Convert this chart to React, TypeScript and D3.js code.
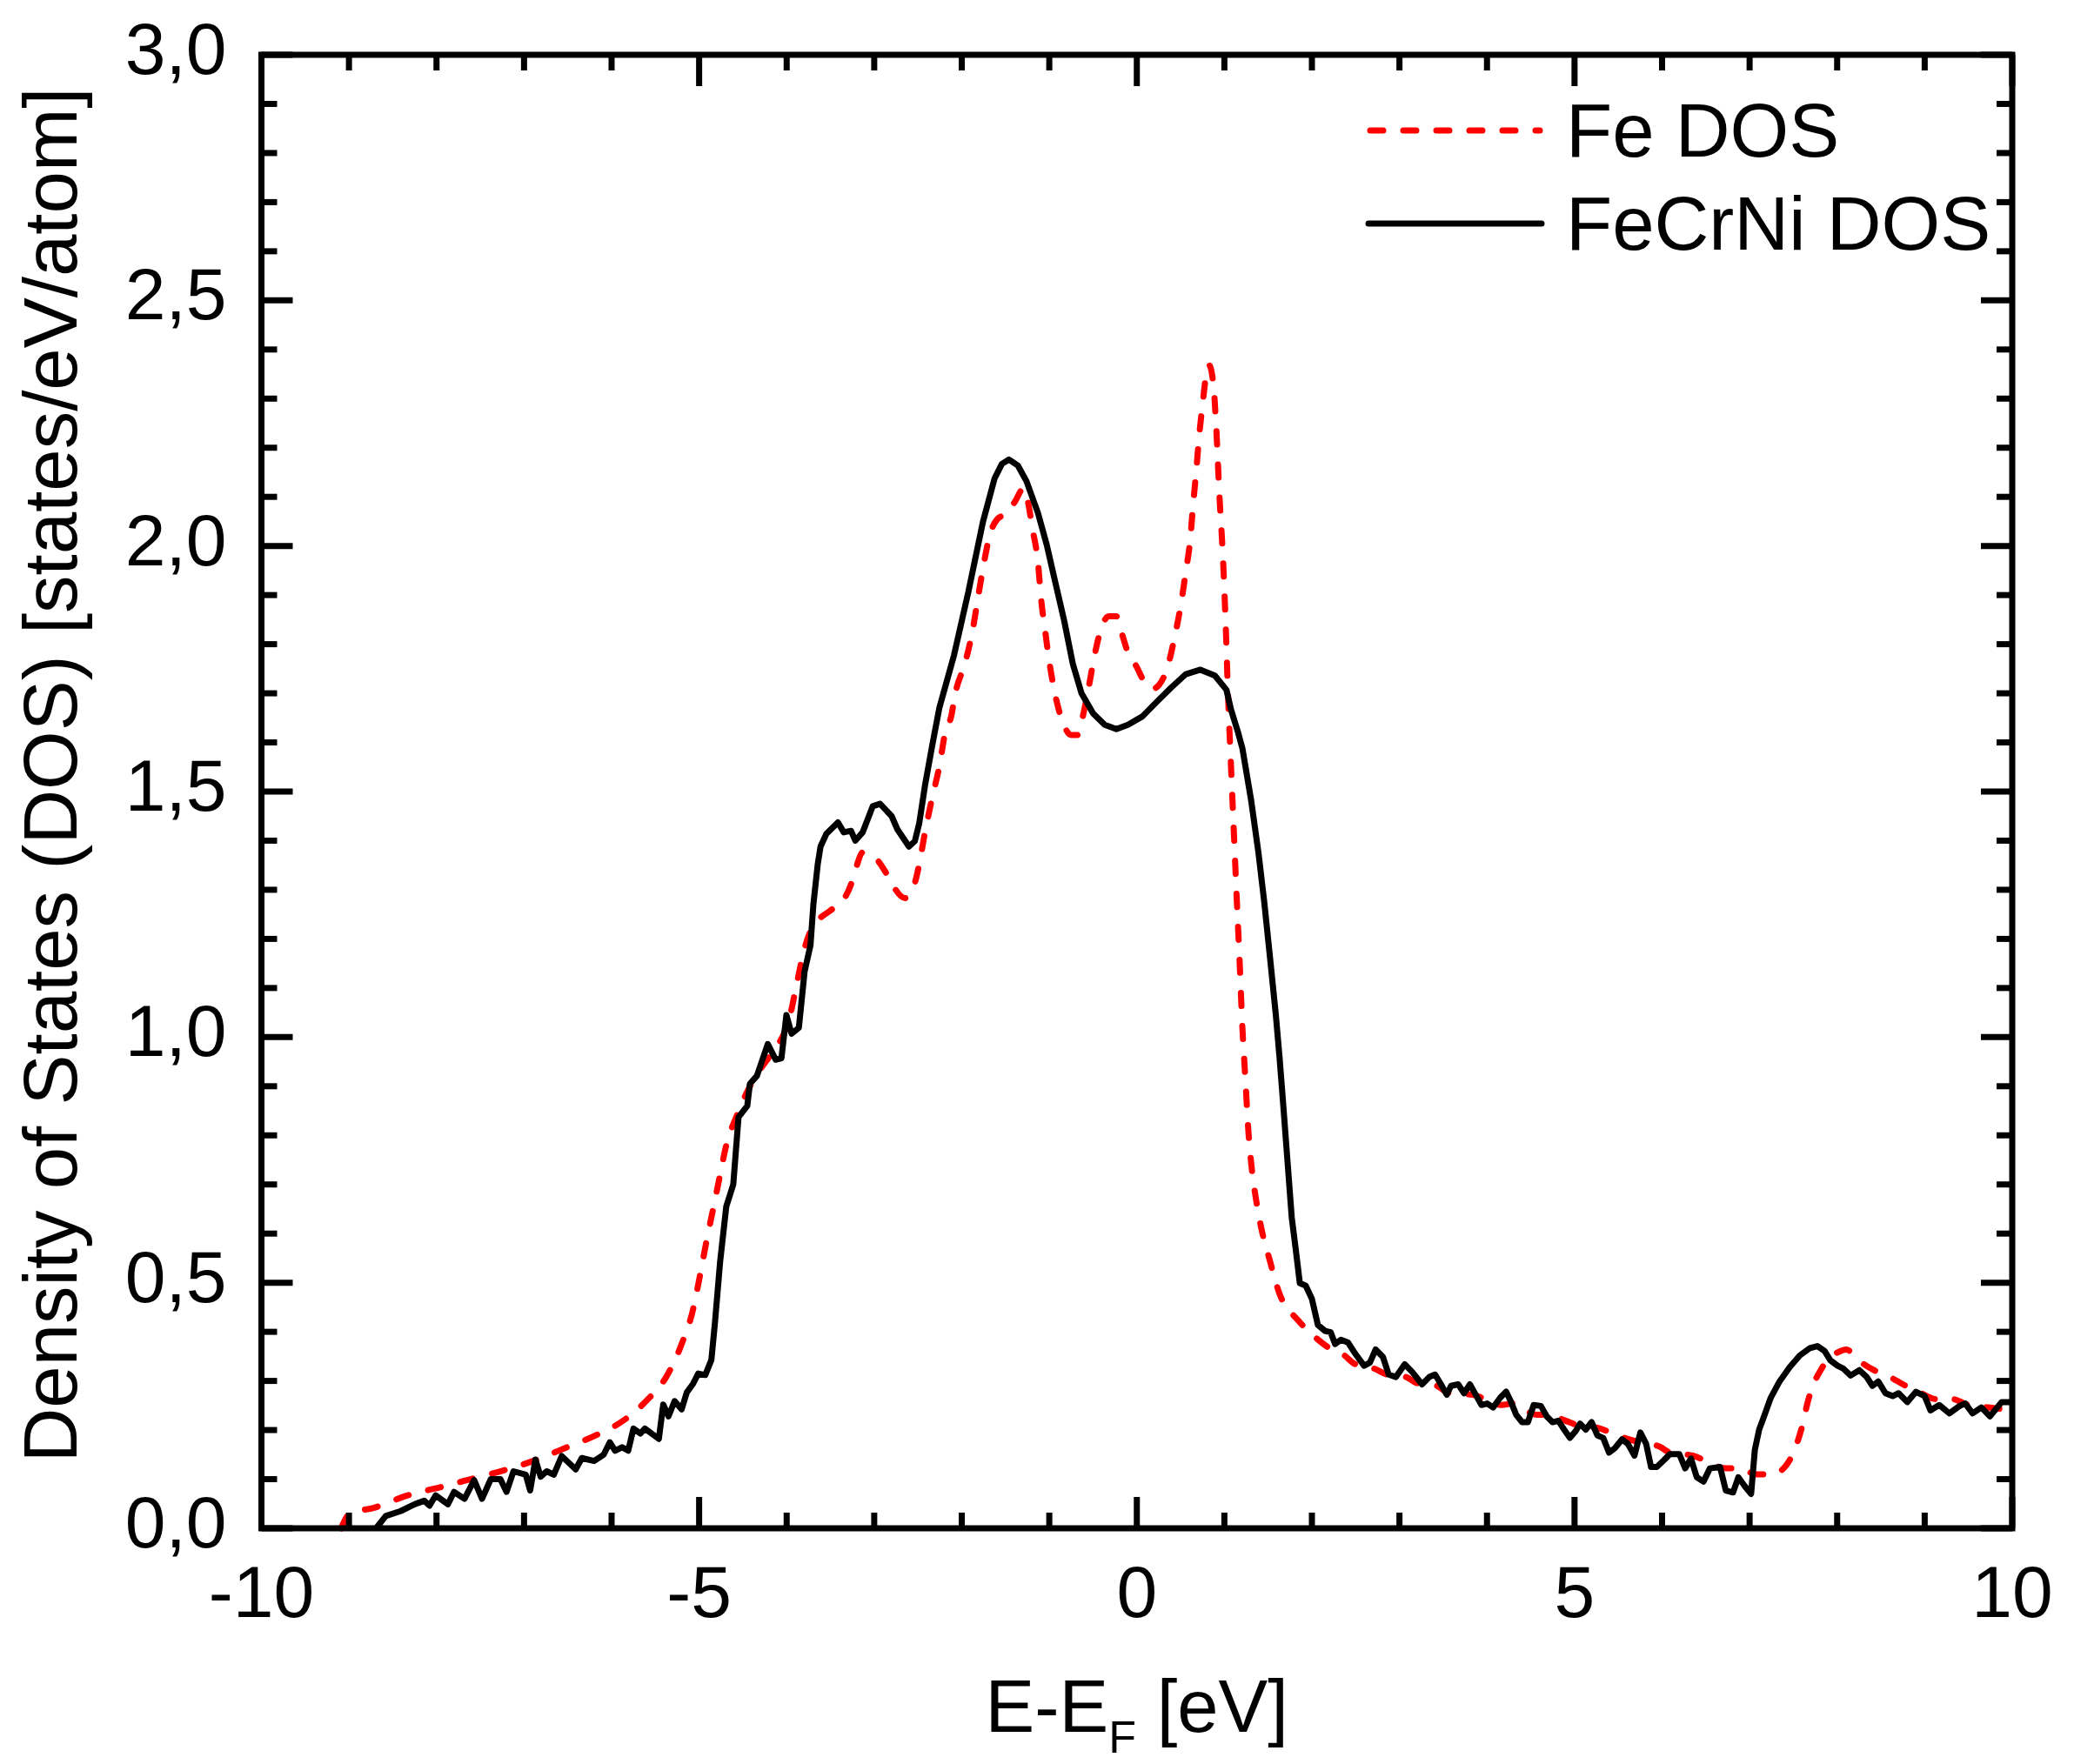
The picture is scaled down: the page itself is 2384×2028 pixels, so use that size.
import * as d3 from "d3";
import React from "react";

// axis ticks and labels
const xMajor = [-10, -5, 0, 5, 10];
const xTickLabels = ["-10", "-5", "0", "5", "10"];
const yMajor = [0, 0.5, 1, 1.5, 2, 2.5, 3];
const yTickLabels = ["0,0", "0,5", "1,0", "1,5", "2,0", "2,5", "3,0"];
const seriesNames = ["Fe DOS", "FeCrNi DOS"];

// [E - E_F (eV), DOS (states/eV/atom)]
const feDos: [number, number][] = [
  [-9.09, 0.0], [-8.99, 0.03], [-8.71, 0.042], [-8.33, 0.067], [-7.95, 0.084],
  [-7.61, 0.1], [-7.19, 0.12], [-6.85, 0.14], [-6.51, 0.165], [-6.17, 0.19],
  [-5.86, 0.22], [-5.6, 0.26], [-5.37, 0.31], [-5.2, 0.375], [-5.07, 0.445],
  [-4.99, 0.515], [-4.91, 0.59], [-4.84, 0.65], [-4.76, 0.72], [-4.69, 0.78],
  [-4.57, 0.84], [-4.42, 0.9], [-4.21, 0.957], [-4.125, 0.977], [-3.96, 1.045],
  [-3.88, 1.113], [-3.795, 1.181], [-3.74, 1.211], [-3.66, 1.234], [-3.5, 1.258],
  [-3.365, 1.276], [-3.265, 1.311], [-3.215, 1.34], [-3.132, 1.376], [-3.0, 1.367],
  [-2.867, 1.335], [-2.784, 1.308], [-2.65, 1.283], [-2.536, 1.314], [-2.486, 1.352],
  [-2.42, 1.417], [-2.337, 1.488], [-2.254, 1.553], [-2.188, 1.621], [-2.122, 1.652],
  [-2.073, 1.7], [-1.957, 1.765], [-1.874, 1.83], [-1.824, 1.884], [-1.758, 1.954],
  [-1.675, 2.025], [-1.592, 2.055], [-1.476, 2.067], [-1.393, 2.09], [-1.294, 2.117],
  [-1.244, 2.09], [-1.194, 2.037], [-1.129, 1.966], [-1.095, 1.895], [-1.045, 1.824],
  [-0.996, 1.76], [-0.93, 1.695], [-0.847, 1.642], [-0.75, 1.615], [-0.68, 1.615],
  [-0.632, 1.642], [-0.55, 1.712], [-0.483, 1.777], [-0.4, 1.836], [-0.317, 1.857],
  [-0.234, 1.857], [-0.185, 1.83], [-0.101, 1.783], [-0.002, 1.754], [0.064, 1.73],
  [0.18, 1.709], [0.33, 1.742], [0.43, 1.813], [0.495, 1.872], [0.56, 1.948],
  [0.61, 2.013], [0.643, 2.084], [0.677, 2.149], [0.71, 2.22], [0.753, 2.291],
  [0.793, 2.35], [0.826, 2.368], [0.876, 2.326], [0.908, 2.238], [0.942, 2.108],
  [0.985, 1.972], [1.017, 1.83], [1.041, 1.7], [1.074, 1.559], [1.107, 1.423],
  [1.14, 1.287], [1.174, 1.155], [1.206, 1.019], [1.24, 0.915], [1.273, 0.812],
  [1.306, 0.744], [1.356, 0.676], [1.422, 0.611], [1.521, 0.544], [1.621, 0.482],
  [1.85, 0.422], [2.05, 0.387], [2.199, 0.367], [2.348, 0.355], [2.497, 0.334],
  [2.712, 0.325], [2.861, 0.313], [3.076, 0.308], [3.192, 0.296], [3.424, 0.29],
  [3.573, 0.275], [3.838, 0.272], [3.937, 0.266], [4.169, 0.251], [4.301, 0.254],
  [4.566, 0.231], [4.699, 0.231], [4.897, 0.219], [5.03, 0.21], [5.278, 0.204],
  [5.411, 0.195], [5.626, 0.181], [5.742, 0.175], [5.974, 0.166], [6.089, 0.154],
  [6.347, 0.148], [6.48, 0.139], [6.728, 0.122], [6.877, 0.122], [7.076, 0.11],
  [7.259, 0.11], [7.425, 0.13], [7.507, 0.157], [7.59, 0.201], [7.673, 0.263],
  [7.723, 0.29], [7.822, 0.325], [7.889, 0.343], [8.005, 0.358], [8.104, 0.364],
  [8.237, 0.343], [8.42, 0.322], [8.602, 0.308], [8.785, 0.29], [8.901, 0.281],
  [9.133, 0.263], [9.315, 0.263], [9.53, 0.249], [9.73, 0.246], [9.995, 0.24],
];

const feCrNiDos: [number, number][] = [
  [-8.69, 0.0], [-8.58, 0.025], [-8.41, 0.035], [-8.25, 0.049], [-8.14, 0.056],
  [-8.08, 0.046], [-8.01, 0.067], [-7.87, 0.049], [-7.8, 0.074], [-7.68, 0.06],
  [-7.57, 0.098], [-7.48, 0.06], [-7.38, 0.1], [-7.27, 0.1], [-7.2, 0.074],
  [-7.12, 0.116], [-6.98, 0.109], [-6.93, 0.077], [-6.87, 0.14], [-6.81, 0.105],
  [-6.74, 0.116], [-6.66, 0.109], [-6.57, 0.147], [-6.41, 0.12], [-6.34, 0.143],
  [-6.2, 0.137], [-6.09, 0.15], [-6.02, 0.175], [-5.96, 0.158], [-5.88, 0.165],
  [-5.81, 0.158], [-5.75, 0.203], [-5.67, 0.193], [-5.62, 0.203], [-5.46, 0.182],
  [-5.41, 0.252], [-5.35, 0.228], [-5.28, 0.259], [-5.2, 0.242], [-5.14, 0.277],
  [-5.07, 0.294], [-5.01, 0.315], [-4.93, 0.312], [-4.86, 0.343], [-4.82, 0.417],
  [-4.76, 0.543], [-4.69, 0.655], [-4.61, 0.7], [-4.55, 0.837], [-4.45, 0.86],
  [-4.42, 0.905], [-4.34, 0.921], [-4.215, 0.986], [-4.125, 0.954], [-4.06, 0.957],
  [-4.003, 1.045], [-3.944, 1.007], [-3.861, 1.019], [-3.795, 1.134], [-3.728, 1.187],
  [-3.695, 1.27], [-3.645, 1.352], [-3.613, 1.388], [-3.546, 1.414], [-3.414, 1.437],
  [-3.348, 1.417], [-3.265, 1.42], [-3.216, 1.4], [-3.132, 1.417], [-3.017, 1.47],
  [-2.933, 1.475], [-2.801, 1.45], [-2.735, 1.423], [-2.603, 1.388], [-2.536, 1.399],
  [-2.486, 1.435], [-2.42, 1.512], [-2.337, 1.594], [-2.255, 1.671], [-2.089, 1.777],
  [-1.924, 1.907], [-1.758, 2.049], [-1.626, 2.137], [-1.542, 2.167], [-1.46, 2.176],
  [-1.36, 2.164], [-1.261, 2.132], [-1.129, 2.067], [-1.029, 2.002], [-0.93, 1.925],
  [-0.83, 1.848], [-0.731, 1.76], [-0.632, 1.7], [-0.499, 1.659], [-0.367, 1.636],
  [-0.234, 1.627], [-0.101, 1.636], [0.064, 1.653], [0.23, 1.683], [0.395, 1.712],
  [0.56, 1.739], [0.726, 1.748], [0.892, 1.736], [1.024, 1.707], [1.074, 1.668],
  [1.157, 1.62], [1.206, 1.588], [1.306, 1.482], [1.389, 1.376], [1.455, 1.276],
  [1.521, 1.163], [1.588, 1.045], [1.631, 0.957], [1.67, 0.868], [1.72, 0.75],
  [1.77, 0.632], [1.82, 0.561], [1.862, 0.499], [1.929, 0.494], [2.0, 0.467],
  [2.068, 0.414], [2.149, 0.402], [2.215, 0.399], [2.265, 0.375], [2.331, 0.384],
  [2.414, 0.378], [2.497, 0.355], [2.596, 0.331], [2.662, 0.337], [2.728, 0.364],
  [2.811, 0.349], [2.877, 0.313], [2.96, 0.308], [3.06, 0.334], [3.142, 0.319],
  [3.258, 0.293], [3.341, 0.308], [3.407, 0.313], [3.474, 0.293], [3.54, 0.272],
  [3.589, 0.29], [3.672, 0.293], [3.738, 0.275], [3.805, 0.293], [3.871, 0.272],
  [3.937, 0.251], [4.003, 0.254], [4.07, 0.246], [4.152, 0.266], [4.219, 0.278],
  [4.268, 0.26], [4.334, 0.231], [4.401, 0.216], [4.467, 0.216], [4.533, 0.251],
  [4.616, 0.249], [4.682, 0.228], [4.748, 0.216], [4.815, 0.219], [4.881, 0.201],
  [4.947, 0.184], [5.013, 0.198], [5.063, 0.213], [5.129, 0.201], [5.195, 0.216],
  [5.262, 0.189], [5.328, 0.184], [5.394, 0.154], [5.46, 0.163], [5.543, 0.181],
  [5.609, 0.172], [5.685, 0.148], [5.752, 0.195], [5.818, 0.172], [5.874, 0.125],
  [5.94, 0.125], [6.023, 0.139], [6.089, 0.151], [6.197, 0.151], [6.264, 0.122],
  [6.33, 0.142], [6.396, 0.104], [6.473, 0.095], [6.546, 0.122], [6.662, 0.125],
  [6.728, 0.077], [6.811, 0.073], [6.871, 0.104], [6.944, 0.086], [7.017, 0.07],
  [7.06, 0.16], [7.109, 0.201], [7.159, 0.225], [7.242, 0.266], [7.342, 0.299],
  [7.458, 0.328], [7.574, 0.352], [7.69, 0.367], [7.773, 0.371], [7.856, 0.361],
  [7.922, 0.342], [8.005, 0.331], [8.071, 0.325], [8.154, 0.311], [8.254, 0.322],
  [8.337, 0.308], [8.403, 0.29], [8.469, 0.299], [8.552, 0.275], [8.635, 0.269],
  [8.702, 0.275], [8.801, 0.257], [8.901, 0.278], [9.0, 0.269], [9.066, 0.24],
  [9.166, 0.251], [9.282, 0.234], [9.398, 0.249], [9.464, 0.254], [9.547, 0.234],
  [9.647, 0.246], [9.746, 0.228], [9.879, 0.257], [9.978, 0.257],
];

const font = "'Liberation Sans', Arial, sans-serif";

export default function App() {
  const W = 2384;
  const H = 2028;
  const m = { top: 63, right: 71, bottom: 271, left: 300.5 };

  const x = d3.scaleLinear().domain([-10, 10]).range([m.left, W - m.right]);
  const y = d3.scaleLinear().domain([0, 3]).range([H - m.bottom, m.top]);

  const line = d3
    .line<[number, number]>()
    .x((d) => x(d[0]))
    .y((d) => y(d[1]));

  const feLine = line.curve(d3.curveMonotoneX)(feDos) ?? undefined;
  const fcnLine = line.curve(d3.curveLinear)(feCrNiDos) ?? undefined;

  const xMinor = d3.range(-10, 10.001, 1).filter((v) => !xMajor.includes(v));
  const yMinor = d3
    .range(0, 3.0001, 0.1)
    .map((v) => Math.round(v * 10) / 10)
    .filter((v) => !yMajor.some((t) => Math.abs(t - v) < 1e-6));

  const x0 = m.left;
  const x1 = W - m.right;
  const y0 = H - m.bottom;
  const y1 = m.top;
  const major = 36;
  const minor = 18;
  const sw = 7;

  return (
    <div style={{ position: "absolute", left: 0, top: 0 }}>
      <svg width={W} height={H} style={{ display: "block", background: "#fff" }}>
        {/* data */}
        <path
          d={feLine}
          fill="none"
          stroke="#ff0000"
          strokeWidth={7}
          strokeDasharray="15 23"
          strokeLinecap="round"
          strokeLinejoin="round"
        />
        <path
          d={fcnLine}
          fill="none"
          stroke="#000"
          strokeWidth={7}
          strokeLinejoin="round"
        />

        {/* ticks, inward on all four sides */}
        <g stroke="#000" strokeWidth={sw}>
          {xMajor.map((t) => (
            <g key={`xM${t}`}>
              <line x1={x(t)} x2={x(t)} y1={y0} y2={y0 - major} />
              <line x1={x(t)} x2={x(t)} y1={y1} y2={y1 + major} />
            </g>
          ))}
          {xMinor.map((t) => (
            <g key={`xm${t}`}>
              <line x1={x(t)} x2={x(t)} y1={y0} y2={y0 - minor} />
              <line x1={x(t)} x2={x(t)} y1={y1} y2={y1 + minor} />
            </g>
          ))}
          {yMajor.map((t) => (
            <g key={`yM${t}`}>
              <line x1={x0} x2={x0 + major} y1={y(t)} y2={y(t)} />
              <line x1={x1} x2={x1 - major} y1={y(t)} y2={y(t)} />
            </g>
          ))}
          {yMinor.map((t) => (
            <g key={`ym${t}`}>
              <line x1={x0} x2={x0 + minor} y1={y(t)} y2={y(t)} />
              <line x1={x1} x2={x1 - minor} y1={y(t)} y2={y(t)} />
            </g>
          ))}
        </g>

        {/* frame */}
        <rect
          x={x0}
          y={y1}
          width={x1 - x0}
          height={y0 - y1}
          fill="none"
          stroke="#000"
          strokeWidth={sw}
        />

        {/* tick labels */}
        <g fontFamily={font} fontSize={84} fill="#000">
          {xMajor.map((t, i) => (
            <text key={`xl${t}`} x={x(t)} y={y0 + 102} textAnchor="middle">
              {xTickLabels[i]}
            </text>
          ))}
          {yMajor.map((t, i) => (
            <text key={`yl${t}`} x={x0 - 40} y={y(t) + 22} textAnchor="end">
              {yTickLabels[i]}
            </text>
          ))}
        </g>

        {/* axis titles */}
        <text
          x={(x0 + x1) / 2}
          y={1991}
          textAnchor="middle"
          fontFamily={font}
          fontSize={85}
          fill="#000"
        >
          E-E
          <tspan fontSize={52} dy={24}>F</tspan>
          <tspan dy={-24}> [eV]</tspan>
        </text>
        <text
          transform={`translate(88, 891) rotate(-90)`}
          textAnchor="middle"
          fontFamily={font}
          fontSize={87}
          fill="#000"
        >
          Density of States (DOS) [states/eV/atom]
        </text>

        {/* legend */}
        <g fontFamily={font} fontSize={87} fill="#000">
          <line
            x1={1575}
            x2={1770}
            y1={150}
            y2={150}
            stroke="#ff0000"
            strokeWidth={7}
            strokeDasharray="15 23"
            strokeLinecap="round"
          />
          <text x={1800} y={180}>{seriesNames[0]}</text>
          <line
            x1={1573}
            x2={1772}
            y1={257}
            y2={257}
            stroke="#000"
            strokeWidth={7}
            strokeLinecap="round"
          />
          <text x={1800} y={287}>{seriesNames[1]}</text>
        </g>
      </svg>
    </div>
  );
}
